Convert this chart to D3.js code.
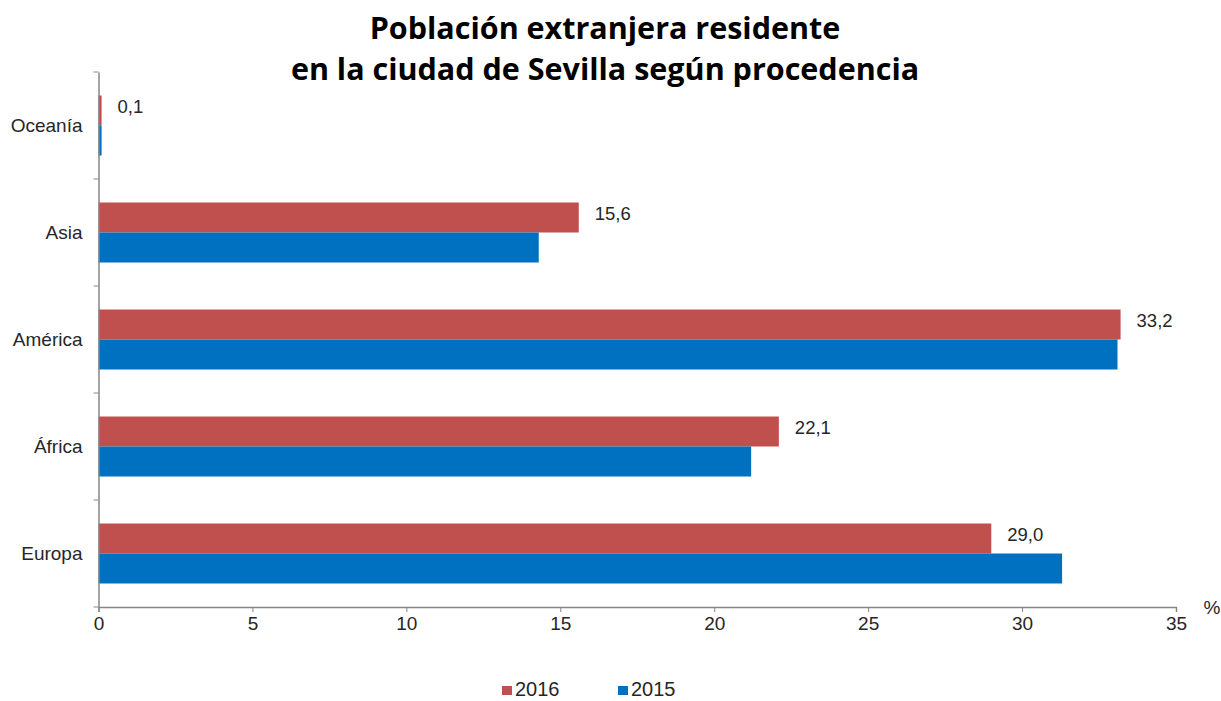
<!DOCTYPE html>
<html>
<head>
<meta charset="utf-8">
<script src="https://cdn.jsdelivr.net/npm/d3@7"></script>
<style>
  body { margin: 0; background: #fff; }
  svg { display: block; }
  text { font-family: "Liberation Sans", Arial, sans-serif; fill: #262626; }
</style>
</head>
<body>
<svg id="chart" width="1221" height="701"></svg>
<script>
'use strict';

// categories top to bottom
var regiones = ["Oceanía", "Asia", "América", "África", "Europa"];
var valores2016 = [0.1, 15.6, 33.2, 22.1, 29.0];
var valores2015 = [0.1, 14.3, 33.1, 21.2, 31.3];
var series = ["2016", "2015"];
var colores = ["#C0504D", "#0070C0"];
var xTicks = [0, 5, 10, 15, 20, 25, 30, 35];

var svg = d3.select("#chart");

var plotLeft = 98.5, plotRight = 1176, plotTop = 72, plotBottom = 607;
var fs = "19px";

var x = d3.scaleLinear().domain([0, 35]).range([plotLeft, plotRight]);

var y = d3.scaleBand()
   .domain(regiones)
   .range([plotTop, plotBottom])
   .paddingInner(0)
   .paddingOuter(0);

var bandPad = 23.5;
var ySub = d3.scaleBand()
   .domain(series)
   .range([bandPad, y.bandwidth() - bandPad]);

var color = d3.scaleOrdinal().domain(series).range(colores);

// title
var title = svg.append("text")
   .attr("text-anchor", "middle")
   .style("font-family", "'Open Sans', sans-serif")
   .style("font-weight", "bold")
   .style("font-size", "30.5px")
   .style("fill", "#000");
title.append("tspan").attr("x", 605).attr("y", 39).text("Población extranjera residente");
title.append("tspan").attr("x", 605).attr("y", 80).text("en la ciudad de Sevilla según procedencia");

// bars
var datos = regiones.map(function(r, i) {
   return { region: r, vals: [
      { serie: "2016", v: valores2016[i] },
      { serie: "2015", v: valores2015[i] }
   ]};
});

var grupos = svg.selectAll("g.grupo")
   .data(datos)
   .enter().append("g")
   .attr("class", "grupo")
   .attr("transform", function(d) { return "translate(0," + y(d.region) + ")"; });

grupos.selectAll("rect")
   .data(function(d) { return d.vals; })
   .enter().append("rect")
   .attr("x", x(0))
   .attr("y", function(d) { return ySub(d.serie); })
   .attr("width", function(d) { return x(d.v) - x(0); })
   .attr("height", ySub.bandwidth())
   .style("fill", function(d) { return color(d.serie); });

// value labels for 2016
grupos.append("text")
   .attr("x", function(d) { return x(d.vals[0].v) + 16; })
   .attr("y", function(d) { return ySub("2016") + ySub.bandwidth() / 2; })
   .attr("dy", "0.15em")
   .style("font-size", "18.5px")
   .text(function(d) { return d3.format(".1f")(d.vals[0].v).replace(".", ","); });

// x axis
var xAxis = svg.append("g")
   .attr("transform", "translate(0," + plotBottom + ")")
   .call(d3.axisBottom(x).tickValues(xTicks).tickSize(5).tickPadding(5));
xAxis.select(".domain").attr("stroke", "#868686").attr("stroke-width", 1.5);
xAxis.selectAll(".tick line").attr("stroke", "#868686");
xAxis.selectAll("text")
   .style("font-family", "'Liberation Sans', Arial, sans-serif")
   .style("font-size", fs)
   .style("fill", "#262626");

// y axis
var yAxis = svg.append("g")
   .attr("transform", "translate(" + plotLeft + ",0)")
   .call(d3.axisLeft(y).tickSize(0).tickPadding(16));
yAxis.select(".domain").attr("stroke", "#868686").attr("stroke-width", 1.5);
yAxis.selectAll("text")
   .style("font-family", "'Liberation Sans', Arial, sans-serif")
   .style("font-size", fs)
   .style("fill", "#262626");

// boundary ticks on y axis
var limites = regiones.map(function(r) { return y(r); }).concat([plotBottom]);
yAxis.selectAll("line.limite")
   .data(limites)
   .enter().append("line")
   .attr("class", "limite")
   .attr("x1", -5).attr("x2", 0)
   .attr("y1", function(d) { return d; })
   .attr("y2", function(d) { return d; })
   .attr("stroke", "#868686");

// unit label
svg.append("text")
   .attr("x", 1212)
   .attr("y", 614)
   .attr("text-anchor", "middle")
   .style("font-size", fs)
   .text("%");

// legend
var leyenda = svg.selectAll("g.leyenda")
   .data(series)
   .enter().append("g")
   .attr("class", "leyenda")
   .attr("transform", function(d, i) { return "translate(" + (502 + i * 116) + ",686)"; });

leyenda.append("rect")
   .attr("width", 10).attr("height", 9)
   .style("fill", function(d) { return color(d); });

leyenda.append("text")
   .attr("x", 13).attr("y", 10)
   .style("font-size", "20px")
   .text(function(d) { return d; });
</script>
</body>
</html>
